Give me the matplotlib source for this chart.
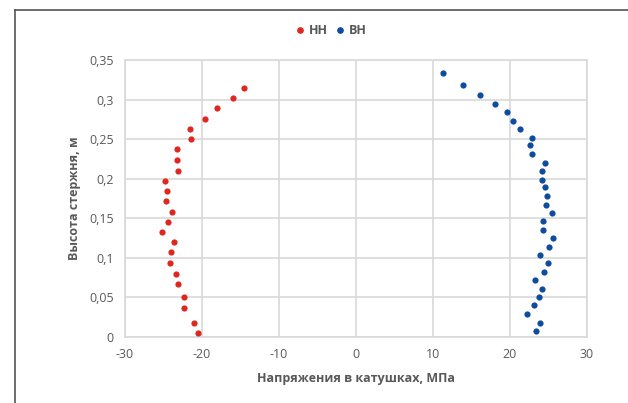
import matplotlib
matplotlib.use("Agg")
import matplotlib.pyplot as plt
from matplotlib.lines import Line2D
from matplotlib.ticker import FuncFormatter

# Data
hh_x = [-14.6, -16.0, -18.1, -19.6, -21.6, -21.4, -23.3, -23.3, -23.1, -24.8, -24.6, -24.7,
        -23.9, -24.4, -25.2, -23.6, -24.0, -24.2, -23.4, -23.1, -22.3, -22.4, -21.0, -20.5]
hh_y = [0.315, 0.302, 0.289, 0.276, 0.263, 0.250, 0.237, 0.224, 0.210, 0.197, 0.185, 0.172,
        0.158, 0.145, 0.133, 0.120, 0.107, 0.094, 0.080, 0.067, 0.050, 0.037, 0.018, 0.005]

bh_x = [11.25, 13.95, 16.1, 18.1, 19.6, 20.4, 21.3, 22.9, 22.6, 22.9, 24.55, 24.2, 24.2,
        24.55, 24.8, 24.7, 25.4, 24.25, 24.3, 25.55, 25.0, 23.9, 24.9, 24.4, 23.25, 24.2,
        23.8, 23.1, 22.2, 23.9, 23.4]
bh_y = [0.333, 0.319, 0.306, 0.295, 0.284, 0.273, 0.263, 0.252, 0.242, 0.231, 0.220, 0.210,
        0.199, 0.189, 0.178, 0.167, 0.157, 0.146, 0.135, 0.125, 0.114, 0.104, 0.093, 0.082,
        0.072, 0.061, 0.051, 0.040, 0.029, 0.018, 0.008]

series_names = ["НН", "ВН"]
x_ticks = [-30, -20, -10, 0, 10, 20, 30]
y_ticks = [0, 0.05, 0.1, 0.15, 0.2, 0.25, 0.3, 0.35]
x_label = "Напряжения в катушках, МПа"
y_label = "Высота стержня, м"

red = "#E0271F"
blue = "#0E4C9E"
grid_c = "#D9D9D9"
text_c = "#595959"

plt.rcParams['font.family'] = ['Open Sans', 'DejaVu Sans']

fig = plt.figure(figsize=(6.28, 4.03), dpi=100)
ax = fig.add_axes([125 / 628, 1 - 337 / 403, (587 - 125) / 628, (337 - 60) / 403])

ax.scatter(hh_x, hh_y, s=20, color=red, linewidths=0, zorder=3)
ax.scatter(bh_x, bh_y, s=20, color=blue, linewidths=0, zorder=3)

ax.set_xlim(-30, 30)
ax.set_ylim(0, 0.35)
ax.set_xticks(x_ticks)
ax.set_yticks(y_ticks)

def fmt(v, pos):
    s = ('%g' % v).replace('.', ',')
    return s.replace('\u2212', '-')

ax.xaxis.set_major_formatter(FuncFormatter(fmt))
ax.yaxis.set_major_formatter(FuncFormatter(fmt))
ax.tick_params(length=0, labelsize=9, colors=text_c, pad=8)
ax.grid(True, color=grid_c, linewidth=1.2)
ax.set_axisbelow(True)
for sp in ax.spines.values():
    sp.set_color(grid_c)
    sp.set_linewidth(1.2)

ax.set_xlabel(x_label, fontsize=9, fontweight='bold', color=text_c, labelpad=8)
ax.set_ylabel(y_label, fontsize=9, fontweight='bold', color=text_c, labelpad=6)

handles = [Line2D([], [], marker='o', linestyle='', color=red, markersize=3.8),
           Line2D([], [], marker='o', linestyle='', color=blue, markersize=3.8)]
fig.legend(handles, series_names, loc='center', bbox_to_anchor=(331 / 628, 1 - 31 / 403),
           ncol=2, frameon=False, prop={'size': 9, 'weight': 'bold'}, handletextpad=0.3,
           columnspacing=0.6, labelcolor=text_c, handlelength=0.8)

# outer frame (top and left visible)
fig.add_artist(Line2D([15 / 628, 15 / 628], [0, 1 - 10 / 403], transform=fig.transFigure,
                      color='#555555', linewidth=1.2))
fig.add_artist(Line2D([15 / 628, 1], [1 - 10 / 403, 1 - 10 / 403], transform=fig.transFigure,
                      color='#555555', linewidth=1.2))

fig.savefig("out.png", dpi=100)
